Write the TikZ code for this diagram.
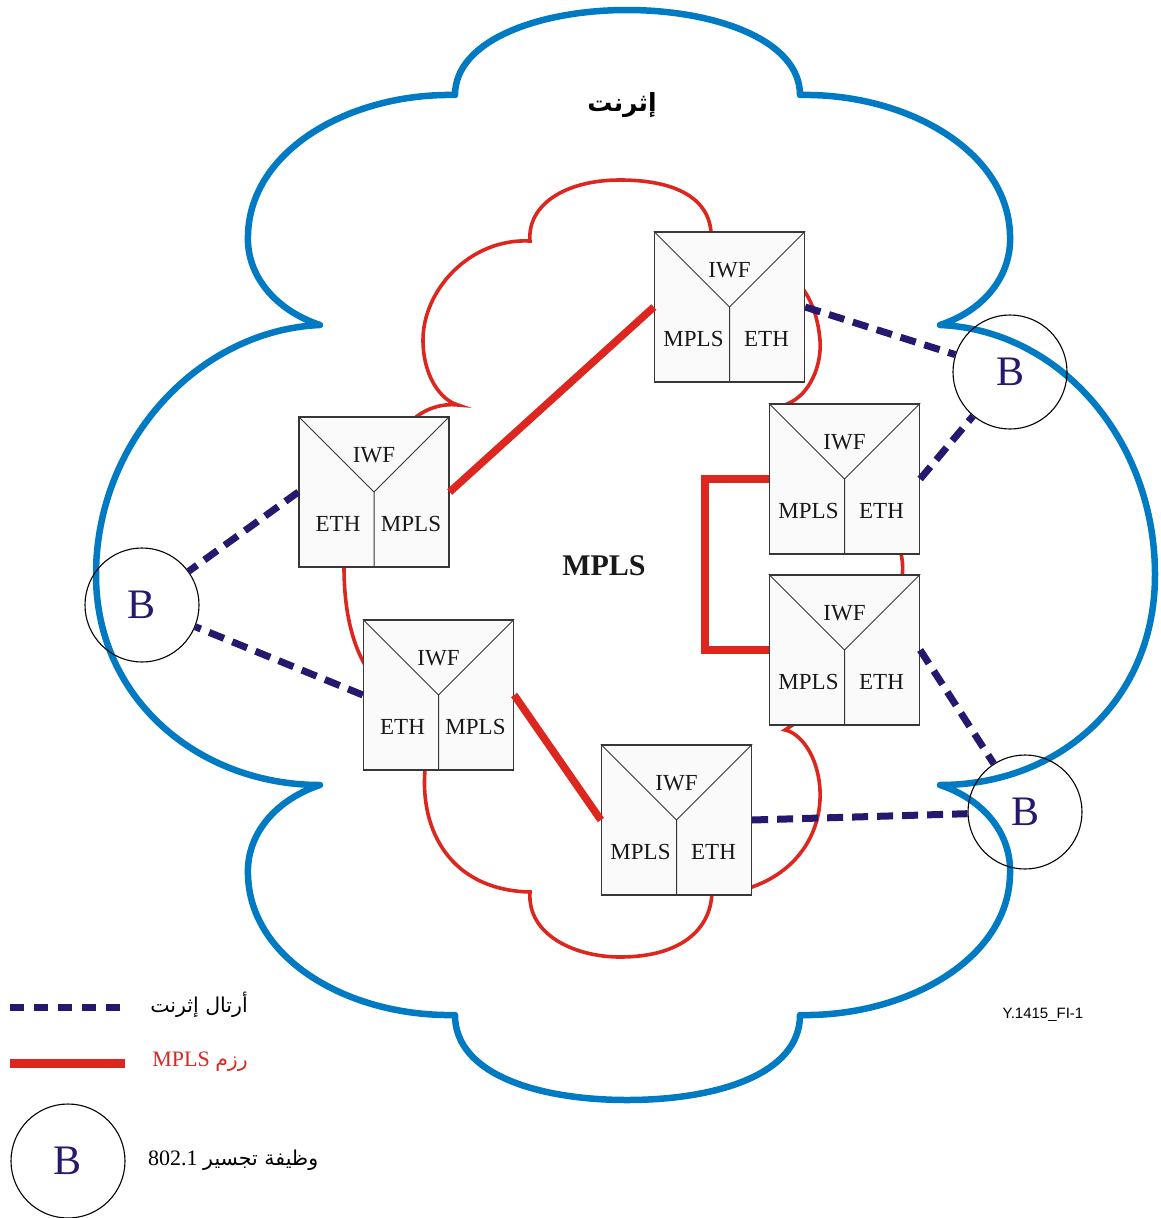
\documentclass[tikz,border=0pt]{standalone}
\usepackage{fontspec}
\setmainfont{Liberation Serif}
\newfontfamily\arabicfont[Script=Arabic]{DejaVu Sans}
\newfontfamily\arialfont{Liberation Sans}
\TeXXeTstate=1
\usetikzlibrary{calc}
\definecolor{cloudblue}{RGB}{0,122,194}
\definecolor{mplsred}{RGB}{220,38,30}
\definecolor{ethnavy}{RGB}{38,24,110}
\definecolor{boxfill}{RGB}{250,250,250}
\definecolor{boxline}{RGB}{55,55,55}
\newcommand\iwfbox[6]{%
  \node[ibox] (#1) at (#2,#3) {};
  \draw[innerline] (#1.north west) -- (#1.center) -- (#1.north east) (#1.center) -- (#1.south);
  \node[lbl] (#1-i) at ([yshift=37pt]#1.center) {IWF};
  \node[lbl] (#1-l) at ([xshift=-36pt,yshift=-32pt]#1.center) {#4};
  \node[lbl] (#1-r) at ([xshift=37pt,yshift=-32pt]#1.center) {#5};
}
\begin{document}
\begin{tikzpicture}[x=1pt,y={(0pt,-1pt)},
  bluecloud/.style={draw=cloudblue,line width=6.5pt,line join=round,line cap=round},
  redcloud/.style={draw=mplsred,line width=3.6pt,line cap=round},
  redlink/.style={draw=mplsred,line width=7.5pt},
  ethlink/.style={draw=ethnavy,line width=7pt,dash pattern=on 16pt off 9pt},
  ibox/.style={draw=boxline,fill=boxfill,line width=1.3pt,minimum size=150pt,inner sep=0pt},
  innerline/.style={draw=boxline,line width=1pt},
  lbl/.style={font=\fontsize{23}{26}\selectfont,text=black!90,inner sep=0pt},
  bcirc/.style={circle,draw=black,line width=1.1pt,minimum size=114pt,inner sep=0pt,text=ethnavy,font=\fontsize{42}{44}\selectfont},
  legtext/.style={font=\fontsize{22}{26}\selectfont,inner sep=0pt},
  legarab/.style={font=\arabicfont\fontsize{20.5}{24}\selectfont},
]
\useasboundingbox (0,0) rectangle (1161,1218);

% Ethernet cloud
\draw[bluecloud] (455,95) .. controls (455,40) and (540,10) .. (627,10)
  .. controls (715,10) and (800,40) .. (800,95)
  .. controls (905,93) and (1008,150) .. (1010,235)
  .. controls (1012,275) and (985,310) .. (940,325)
  .. controls (1060,330) and (1155,440) .. (1155,575)
  .. controls (1155,700) and (1060,785) .. (940,785)
  .. controls (985,800) and (1012,835) .. (1010,875)
  .. controls (1008,960) and (905,1017) .. (800,1015)
  .. controls (800,1075) and (715,1100) .. (627,1100)
  .. controls (540,1100) and (455,1075) .. (455,1015)
  .. controls (350,1017) and (250,960) .. (248,875)
  .. controls (246,835) and (275,800) .. (320,785)
  .. controls (200,785) and (96,700) .. (96,575)
  .. controls (96,440) and (200,330) .. (320,325)
  .. controls (275,310) and (246,275) .. (248,235)
  .. controls (250,150) and (350,93) .. (455,95) -- cycle;

% MPLS cloud
\draw[redcloud] (711,240) -- (711,232) .. controls (708,195) and (670,180) .. (620,180)
  .. controls (565,180) and (527,205) .. (530,241)
  .. controls (470,238) and (423,290) .. (423,340)
  .. controls (423,375) and (440,400) .. (458,405)
  .. controls (440,403) and (420,410) .. (408,425);
\draw[redcloud] (344,560) -- (344,567) .. controls (344,610) and (352,645) .. (368,670);
\draw[redcloud] (425,765) -- (425,770) .. controls (420,830) and (450,890) .. (530,892)
  .. controls (527,935) and (575,957) .. (620,957)
  .. controls (680,957) and (712,930) .. (712,890);
\draw[redcloud] (745,890) -- (752,887) .. controls (800,870) and (822,830) .. (820,790)
  .. controls (818,755) and (800,733) .. (785,730) -- (800,720);
\draw[redcloud] (900,550) .. controls (903,560) and (903,568) .. (902,580);
\draw[redcloud] (780,410) -- (787,404) .. controls (810,395) and (822,365) .. (820,340)
  .. controls (818,318) and (812,300) .. (800,285);

% IWF boxes
\iwfbox{t}{729.5}{307}{MPLS}{ETH}{}
\iwfbox{l}{374}{492}{ETH}{MPLS}{}
\iwfbox{ru}{844.5}{479}{MPLS}{ETH}{}
\iwfbox{rl}{844.5}{650}{MPLS}{ETH}{}
\iwfbox{ll}{438.5}{695}{ETH}{MPLS}{}
\iwfbox{bt}{676.5}{820}{MPLS}{ETH}{}

% Bridges
\node[bcirc] (b1) at (1010,372) {B};
\node[bcirc] (b2) at (142,605) {B};
\node[bcirc] (b3) at (1025,812) {B};

% MPLS packet links
\draw[redlink] (t.west) -- (l.east);
\draw[redlink] (ll.east) -- (bt.west);
\draw[redlink,line join=miter] (ru.west) -- ++(-64,0) |- (rl.west);

% Ethernet frame links
\draw[ethlink] (t.east) -- (b1);
\draw[ethlink] (ru.east) -- (b1);
\draw[ethlink] (l.west) -- (b2);
\draw[ethlink] (ll.west) -- (b2);
\draw[ethlink] (rl.east) -- (b3);
\draw[ethlink] (bt.east) -- (b3);

% Cloud labels
\node[font=\arabicfont\bfseries\fontsize{25}{30}\selectfont,inner sep=0pt] (eth) at (622,105) {\beginR إثرنت\endR};
\node[font=\bfseries\fontsize{30}{34}\selectfont,text=black!90,inner sep=0pt] (mpls) at (604,566) {MPLS};

% Legend
\coordinate (le1) at (10,1007);
\coordinate (le2) at (122,1007);
\draw[ethlink,dash pattern=on 14pt off 10pt] (le1) -- (le2);
\node[legtext,legarab,anchor=east] (lt1) at (248,1005) {\beginR أرتال إثرنت\endR};
\coordinate (lr1) at (10,1063);
\coordinate (lr2) at (125,1063);
\draw[redlink,line width=9pt] (lr1) -- (lr2);
\node[legtext,anchor=east,text=mplsred] (lt2) at (248,1062) {MPLS {\arabicfont\fontsize{20.5}{24}\selectfont\beginR رزم\endR}};
\node[bcirc] (lb) at (68,1161) {B};
\node[legtext,anchor=west] (lt3) at (148,1160) {802.1 {\arabicfont\fontsize{20.5}{24}\selectfont\beginR وظيفة تجسير\endR}};
\node[font=\arialfont\fontsize{15}{17}\selectfont,inner sep=0pt] (code) at (1043,1015) {Y.1415\_FI-1};
\end{tikzpicture}
\end{document}
